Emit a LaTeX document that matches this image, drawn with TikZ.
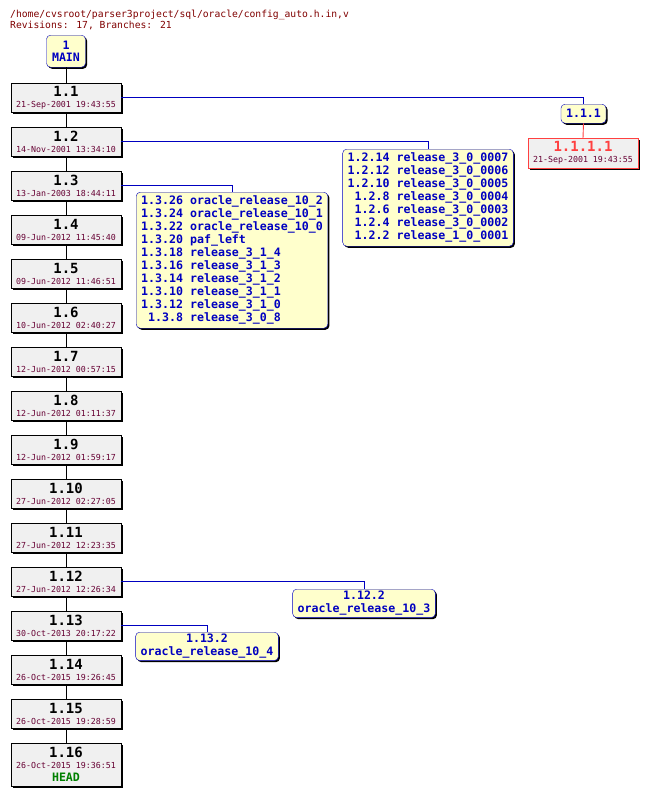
\documentclass[tikz,border=0pt]{standalone}
\usepackage{fontspec}
\usetikzlibrary{shadows}

\newfontfamily\cvsfont{DejaVu Sans Mono}

\definecolor{titlecolor}{RGB}{128,0,0}
\definecolor{datecolor}{RGB}{102,0,51}
\definecolor{revfill}{RGB}{240,240,240}
\definecolor{tagfill}{RGB}{255,255,204}
\definecolor{tagcolor}{RGB}{0,0,192}
\definecolor{deadcolor}{RGB}{255,64,64}
\definecolor{headcolor}{RGB}{0,128,0}

\tikzset{
  boxshadow/.style={drop shadow={shadow xshift=1.6pt,shadow yshift=-1.6pt,opacity=1,fill=black}},
  revbox/.style={draw=black,fill=revfill,boxshadow,minimum width=110pt,minimum height=29pt,
    inner sep=0pt,align=center,font=\cvsfont},
  tagbox/.style={draw=tagcolor,fill=tagfill,boxshadow,rounded corners=4pt,text=tagcolor,
    inner xsep=5pt,inner ysep=3pt,align=center,font=\cvsfont\bfseries\fontsize{11.6}{13}\selectfont},
  trunk/.style={draw=black,line width=0.9pt},
  branchline/.style={draw=tagcolor,line width=0.9pt},
}

% revision number and commit date
\newcommand{\revnum}[1]{{\fontsize{14}{14}\selectfont\bfseries #1}}
\newcommand{\revdate}[1]{{\fontsize{8.3}{9}\selectfont\color{datecolor}#1}}

\begin{document}
\begin{tikzpicture}[x=1pt,y=-1pt]
\fill[white] (0,0) rectangle (647,795);
\useasboundingbox (0,0) rectangle (647,795);

% File header
\node[anchor=base west,inner sep=0pt,text=titlecolor,font=\cvsfont\fontsize{9.7}{11}\selectfont]
  (title) at (10,17) {/home/cvsroot/parser3project/sql/oracle/config\_auto.h.in,v};
\node[anchor=base west,inner sep=0pt,text=titlecolor,font=\cvsfont\fontsize{9.7}{11}\selectfont]
  (stats) at (10,28.5) {Revisions: 17, Branches: 21};

% Main branch label
\node[tagbox,anchor=north,minimum width=39pt,minimum height=32pt,inner xsep=2pt,inner ysep=1pt]
  (main) at (66,35) {1\\[-1.5pt]MAIN};

% Trunk revisions
\foreach \n/\d [count=\i] in {1.1/21-Sep-2001 19:43:55, 1.2/14-Nov-2001 13:34:10,
    1.3/13-Jan-2003 18:44:11, 1.4/09-Jun-2012 11:45:40, 1.5/09-Jun-2012 11:46:51,
    1.6/10-Jun-2012 02:40:27, 1.7/12-Jun-2012 00:57:15, 1.8/12-Jun-2012 01:11:37,
    1.9/12-Jun-2012 01:59:17, 1.10/27-Jun-2012 02:27:05, 1.11/27-Jun-2012 12:23:35,
    1.12/27-Jun-2012 12:26:34, 1.13/30-Oct-2013 20:17:22, 1.14/26-Oct-2015 19:26:45,
    1.15/26-Oct-2015 19:28:59} {
    \pgfmathsetmacro{\y}{97.5+(\i-1)*44}
    \node[revbox] (r\i) at (66,\y) {\revnum{\n}\\[-1pt]\revdate{\d}};
}
\node[revbox,anchor=north,minimum height=43pt] (r16) at (66,743)
  {\revnum{1.16}\\[-1pt]\revdate{26-Oct-2015 19:36:51}\\[1pt]%
   {\fontsize{11.6}{12}\selectfont\bfseries\color{headcolor}HEAD}};

% Trunk connectors
\draw[trunk] (main.south) -- (r1.north);
\foreach \i in {1,...,15} {
    \pgfmathtruncatemacro{\j}{\i+1}
    \draw[trunk] (r\i.south) -- (r\j.north);
}

% Vendor branch 1.1.1
\node[tagbox,anchor=north,minimum width=45pt,minimum height=19pt,inner ysep=1pt]
  (b1) at (583.5,104) {1.1.1};
\node[revbox,draw=deadcolor,anchor=north,minimum height=30pt] (r111) at (583,138)
  {{\fontsize{14}{14}\selectfont\bfseries\color{deadcolor}1.1.1.1}\\[-1pt]\revdate{21-Sep-2001 19:43:55}};
\draw[branchline] (r1.east) -| (b1.north);
\draw[draw=deadcolor,line width=0.9pt] (b1.south) -- (r111.north);

% Tags on 1.2
\node[tagbox,anchor=north] (b2) at (428,149) {%
  \begin{tabular}{@{}r@{ }l@{}}
  1.2.14 & release\_3\_0\_0007\\
  1.2.12 & release\_3\_0\_0006\\
  1.2.10 & release\_3\_0\_0005\\
  1.2.8 & release\_3\_0\_0004\\
  1.2.6 & release\_3\_0\_0003\\
  1.2.4 & release\_3\_0\_0002\\
  1.2.2 & release\_1\_0\_0001
  \end{tabular}};
\draw[branchline] (r2.east) -| (b2.north);

% Tags on 1.3
\node[tagbox,anchor=north] (b3) at (232,192) {%
  \begin{tabular}{@{}r@{ }l@{}}
  1.3.26 & oracle\_release\_10\_2\\
  1.3.24 & oracle\_release\_10\_1\\
  1.3.22 & oracle\_release\_10\_0\\
  1.3.20 & paf\_left\\
  1.3.18 & release\_3\_1\_4\\
  1.3.16 & release\_3\_1\_3\\
  1.3.14 & release\_3\_1\_2\\
  1.3.10 & release\_3\_1\_1\\
  1.3.12 & release\_3\_1\_0\\
  1.3.8 & release\_3\_0\_8
  \end{tabular}};
\draw[branchline] (r3.east) -| (b3.north);

% Branches off 1.12 and 1.13
\node[tagbox,anchor=north,inner ysep=2pt] (b12) at (364,589) {1.12.2\\oracle\_release\_10\_3};
\draw[branchline] (r12.east) -| (b12.north);
\node[tagbox,anchor=north,inner ysep=2pt] (b13) at (207,632) {1.13.2\\oracle\_release\_10\_4};
\draw[branchline] (r13.east) -| (b13.north);

\end{tikzpicture}
\end{document}
